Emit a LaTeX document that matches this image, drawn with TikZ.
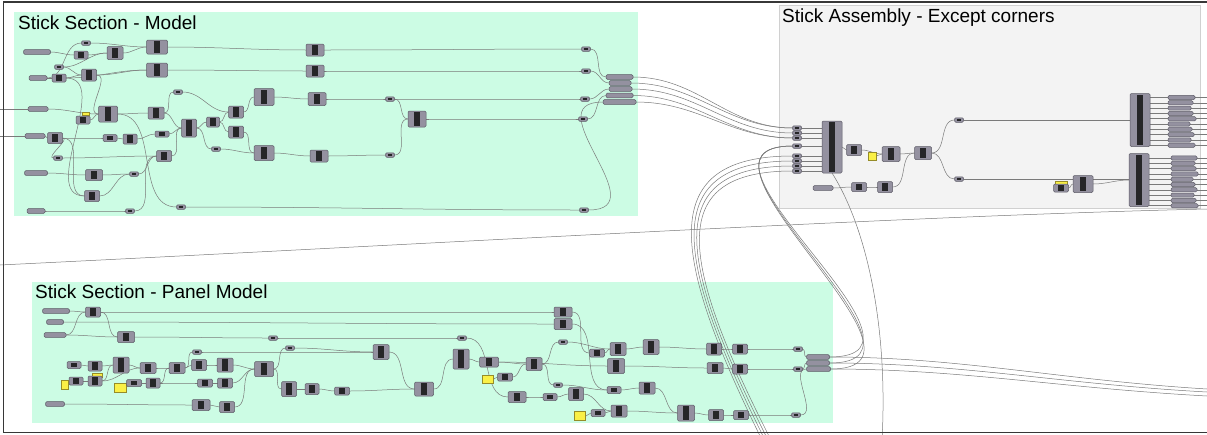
\documentclass[tikz,border=0pt]{standalone}
\usepackage{fontspec}
\setmainfont{Liberation Sans}
\usetikzlibrary{calc}
\definecolor{ggreen}{RGB}{204,252,228}
\definecolor{ggray}{RGB}{243,243,243}
\definecolor{ggrayb}{RGB}{208,208,208}
\definecolor{gcomp}{RGB}{148,145,160}
\definecolor{gedge}{RGB}{92,90,102}
\definecolor{gdark}{RGB}{38,38,40}
\definecolor{gwire}{RGB}{122,122,122}
\definecolor{gyel}{RGB}{250,240,70}
\definecolor{gyelb}{RGB}{150,140,40}
\definecolor{gframe}{RGB}{55,55,55}
\pgfdeclarelayer{bg}\pgfdeclarelayer{wl}\pgfsetlayers{bg,wl,main}
\tikzset{
  gh/.style={rectangle, rounded corners=1.3pt, draw=gedge, line width=0.5pt, fill=gcomp, inner sep=0pt, outer sep=0pt},
  comp/.style={gh, minimum width=15pt, minimum height=11pt,
    path picture={\fill[gdark, sharp corners] ([xshift=-2.8pt,yshift=-1.2pt]path picture bounding box.north) rectangle ([xshift=2.8pt,yshift=1.2pt]path picture bounding box.south);}},
  relay/.style={gh, minimum width=9pt, minimum height=4.5pt,
    path picture={\fill[gdark, sharp corners] ([xshift=-1.9pt,yshift=-0.9pt]path picture bounding box.north) rectangle ([xshift=1.9pt,yshift=0.9pt]path picture bounding box.south);}},
  param/.style={gh, minimum height=4.6pt, minimum width=26pt},
  ylw/.style={rectangle, draw=gyelb, fill=gyel, line width=0.5pt, inner sep=0pt},
  wire/.style={draw=gwire, line width=0.5pt},
  title/.style={font=\fontsize{19}{22}\selectfont, inner sep=0pt, text=black, anchor=base west},
}
\newcommand\Cmp[5]{\node[comp,minimum width=#4pt,minimum height=#5pt] (#1) at (#2,#3) {};}
\newcommand\Prm[4]{\node[param,minimum width=#4pt] (#1) at (#2,#3) {};}
\newcommand\Rly[3]{\node[relay] (#1) at (#2,#3) {};}
\newcommand\Ylw[5]{\node[ylw,minimum width=#4pt,minimum height=#5pt] (#1) at (#2,#3) {};}
\begin{document}
\begin{tikzpicture}[x=1pt,y=-1pt]
\useasboundingbox (0,0) rectangle (1207,434);
% ---------- groups
\begin{pgfonlayer}{bg}
\fill[white] (0,0) rectangle (1207,434);
\fill[ggreen] (14,12) rectangle (638,216);
\fill[ggray] (779,5) rectangle (1200,208);
\draw[ggrayb, line width=0.6pt] (779,5) rectangle (1200,208);
\fill[ggreen] (32,282) rectangle (833,423);
\end{pgfonlayer}
\node[title] (g1) at (18,29) {Stick Section - Model};
\node[title] (g2) at (782,22) {Stick Assembly - Except corners};
\node[title] (g3) at (35,298) {Stick Section - Panel Model};
% ---------- group 1 nodes
\Prm{p1}{37}{52}{27}
\Rly{r1}{86}{43}
\Cmp{c1}{81}{55}{14}{8}
\Cmp{c2}{115}{53}{16}{13}
\Cmp{c3}{157}{47}{21}{14}
\Rly{r2}{59}{67}
\Prm{p2}{38}{78}{18}
\Cmp{c4}{59}{78}{14}{8}
\Cmp{c5}{89}{75}{15}{12}
\Cmp{c6}{157}{70}{21}{14}
\Cmp{c7}{315}{50}{18}{12}
\Cmp{c8}{315}{71}{18}{12}
\Cmp{c9}{264}{97}{20}{17}
\Cmp{c10}{317}{99}{18}{13}
\Rly{r3}{178}{92}
\Prm{p3}{38}{109}{20}
\Ylw{y1}{85.5}{113.5}{7}{3.5}
\Cmp{c11}{83}{120}{14}{8}
\Cmp{c12}{108}{114}{19}{16}
\Cmp{c13}{156}{113}{16}{12}
\Cmp{c14}{236}{112}{15}{12}
\Cmp{c15}{213}{122}{13}{10}
\Cmp{c16}{189}{128}{15}{18}
\Cmp{c17}{236}{132}{15}{12}
\Rly{r4}{216}{149}
\Cmp{c18}{264}{153}{20}{15}
\Prm{p4}{35}{136}{20}
\Cmp{c20}{55}{138}{15}{11}
\Cmp{c21}{110}{138}{14}{7}
\Cmp{c22}{130}{139}{14}{10}
\Cmp{c23}{162}{134}{14}{6}
\Rly{r5}{58}{158}
\Cmp{c24}{164}{156}{15}{11}
\Cmp{c19}{319}{156}{18}{12}
\Prm{p5}{36}{173}{23}
\Cmp{c25}{94}{175}{17}{11}
\Rly{r6}{134}{174}
\Cmp{c26}{92}{196}{15}{11}
\Prm{p6}{36}{211}{18}
\Rly{r7}{130}{211}
\Rly{r8}{181}{207}
\Rly{r9}{586}{49}
\Rly{r10}{586}{71}
\Rly{r11}{390}{99}
\Rly{r12}{585}{99}
\Cmp{c27}{417}{119}{18}{16}
\Rly{r13}{583}{119}
\Rly{r14}{390}{155}
\Rly{r15}{584}{210}
\Prm{s1}{619.5}{77}{27}
\Prm{s2}{620}{83}{22}
\Prm{s3}{620.5}{89}{23}
\Prm{s4}{619.5}{95.5}{27}
\Prm{s5}{619.5}{102}{33}
\coordinate (e1) at (0,109);
\coordinate (e2) at (0,136);
% ---------- group 2 nodes
\Rly{q1}{797}{128}
\Rly{q2}{797}{133}
\Rly{q3}{797}{138}
\Rly{q4}{797}{146}
\Rly{q5}{797}{156}
\Rly{q6}{797}{161}
\Rly{q7}{797}{166}
\Rly{q8}{797}{171}
\Cmp{B1}{832}{147}{20}{52}
\Cmp{bx1}{854}{150}{15}{11}
\Ylw{by1}{872}{156}{8}{8}
\Cmp{bx2}{891}{154}{18}{15}
\Cmp{bx3}{923}{153}{17}{13}
\Prm{bp1}{823}{188}{20}
\Cmp{bx4}{859}{187}{15}{9}
\Cmp{bx5}{885}{187}{15}{11}
\Rly{br1}{959}{120}
\Rly{br2}{959}{179}
\Ylw{by2}{1061}{183}{12}{3}
\Cmp{bx6}{1061}{188}{15}{8}
\Cmp{bx7}{1083}{184}{20}{17}
\Cmp{B2}{1140}{120}{20}{53}
\Cmp{B3}{1139}{180}{20}{53}
\foreach \i/\w in {0/27,1/25,2/23,3/25,4/28,5/22,6/24,7/26,8/23,9/27}{
  \node[param, minimum width=\w pt, minimum height=4.2pt] (rp\i) at (1168+\w/2, 97.5+5.3*\i) {};
}
\foreach \i/\w in {0/26,1/24,2/25,3/27,4/22,5/24,6/26,7/23,8/25,9/27}{
  \node[param, minimum width=\w pt, minimum height=4.2pt] (rq\i) at (1171+\w/2, 158+5.3*\i) {};
}
% ---------- group 3 nodes
\Prm{tp1}{56}{311}{27}
\Cmp{tc1}{93}{312}{15}{10}
\Prm{tp2}{55}{322}{17}
\Prm{tp3}{55}{335}{22}
\Cmp{tc2}{126}{337}{17}{11}
\Rly{tr1}{273}{338}
\Rly{tr2}{197}{352}
\Rly{tr3}{290}{348}
\Cmp{tc3}{381}{352}{16}{15}
\Cmp{tc4}{74}{365}{14}{7}
\Cmp{tc5}{95}{366}{14}{10}
\Cmp{tc6}{121}{365}{16}{16}
\Cmp{tc7}{148}{368}{16}{11}
\Cmp{tc8}{177}{368}{16}{11}
\Cmp{tc9}{199}{365}{15}{11}
\Cmp{tc10}{225}{365}{16}{14}
\Cmp{tc11}{264}{369}{19}{15}
\Ylw{ty1}{65}{385}{7}{9}
\Cmp{tc12}{76}{381}{14}{8}
\Ylw{ty2}{97}{375}{10}{4}
\Cmp{tc13}{95}{381}{14}{10}
\Ylw{ty3}{120}{388}{12}{9}
\Cmp{tc14}{134}{383}{15}{7}
\Cmp{tc15}{153}{383}{14}{10}
\Cmp{tc16}{205}{383}{15}{8}
\Cmp{tc17}{225}{383}{15}{10}
\Cmp{tc18}{289}{389}{15}{15}
\Cmp{tc19}{312}{389}{14}{11}
\Cmp{tc20}{342}{391}{15}{8}
\Cmp{tc21}{424}{389}{19}{14}
\Prm{tp4}{55}{404}{19}
\Cmp{tc22}{201}{405}{18}{11}
\Cmp{tc23}{227}{407}{15}{11}
\Cmp{tc24}{563}{312}{18}{10}
\Cmp{tc25}{563}{324}{18}{11}
\Rly{tr4}{462}{338}
\Cmp{tc26}{461}{359}{16}{20}
\Cmp{tc27}{489}{362}{19}{10}
\Ylw{ty4}{488}{379}{11}{8}
\Cmp{tc28}{505}{377}{15}{8}
\Cmp{tc29}{534}{364}{16}{13}
\Cmp{tc30}{517}{397}{18}{11}
\Cmp{tc31}{550}{397}{14}{7}
\Cmp{tc32}{576}{394}{15}{13}
\Rly{tr5}{558}{385}
\Rly{tr6}{563}{342}
\Cmp{tc33}{597}{353}{15}{8}
\Cmp{tc34}{618}{349}{16}{13}
\Cmp{tc35}{651}{347}{16}{15}
\Cmp{tc36}{616}{366}{17}{15}
\Cmp{tc37}{614}{390}{14}{7}
\Cmp{tc38}{647}{388}{16}{12}
\Cmp{tc39}{619}{411}{16}{12}
\Cmp{tc40}{598}{413}{14}{7}
\Ylw{ty5}{580}{416}{11}{9}
\Cmp{tc41}{686}{413}{17}{16}
\Cmp{tc42}{714}{349}{15}{12}
\Cmp{tc43}{740}{349}{15}{10}
\Cmp{tc44}{715}{368}{16}{11}
\Cmp{tc45}{740}{369}{15}{10}
\Cmp{tc46}{716}{415}{15}{11}
\Cmp{tc47}{741}{415}{15}{9}
\Rly{tr7}{798}{349}
\Rly{tr8}{798}{369}
\Rly{tr9}{796}{415}
\Prm{ts1}{818}{357}{23}
\Prm{ts2}{818}{363}{23}
\Prm{ts3}{818.5}{369}{24}
% ---------- wires
\begin{pgfonlayer}{wl}
\draw[wire] (0,265) .. controls (450,243) and (900,216) .. (1207,209);
\draw[wire] (e1) -- (p3.west);
\draw[wire] (e2) -- (p4.west);
\foreach \a/\b in {p1/c1, c1/c2, c2/c3, p2/r1, r1/c3, r2/c2, p2/c4, c4/c5, r2/c5, c5/c6, c4/c6, c3/c7, c6/c8, c7/r9, c8/r10, r9/s1, r10/s2, p3/c12, c11/c12, c12/c13, c13/c16, c16/c15, c15/c14, c15/c17, c13/r3, r3/c14, c14/c9, c9/c10, c10/r11, r11/r12, r11/c27, r14/c27, c27/r13, r12/s3, r13/s4, c17/c18, c16/r4, r4/c18, c18/c19, c19/r14, p4/c20, c20/c21, c21/c22, c22/c23, c23/c16, c20/r5, r5/c24, c24/c16, p5/c25, c25/r6, r6/c24, c4/c26, c26/r6, c5/c12, p6/r7, r7/c24, c12/r8, r8/r15, c20/c26}
  \draw[wire] (\a.east) to[out=0,in=180] (\b.west);
\draw[wire] (r15.east) .. controls +(70,0) and +(-70,0) .. (s5.west);
% group 1 -> assembly
\foreach \a/\b in {s1/q1, s2/q1, s3/q2, s4/q3, s5/q3}
  \draw[wire] (\a.east) to[out=0,in=180] (\b.west);
% assembly internals
\foreach \q in {q1,q2,q3,q4,q5,q6,q7,q8}
  \draw[wire] (\q.east) -- (B1.west |- \q.east);
\foreach \a/\b in {B1/bx1, bx1/bx2, by1/bx2, bx2/bx3, bp1/bx4, bx4/bx5, bx5/bx3, bx3/br1, bx3/br2, bx6/bx7, bx7/B3}
  \draw[wire] (\a.east) to[out=0,in=180] (\b.west);
\draw[wire] (br1.east) -- (B2.west |- br1.east);
\draw[wire] (br2.east) -- (B3.west |- br2.east);
\foreach \i in {0,...,9}{
  \draw[wire] (B2.east |- rp\i.west) -- (rp\i.west);
  \draw[wire] (rp\i.east) -- (1207,97.5+5.3*\i);
  \draw[wire] (B3.east |- rq\i.west) -- (rq\i.west);
  \draw[wire] (rq\i.east) -- (1207,158+5.3*\i);
}
% group 3
\foreach \a/\b in {tp1/tc1, tp3/tc1, tc1/tc24, tp2/tc25, tp3/tc2, tc2/tr1, tr1/tr4, tc8/tr2, tr2/tc3, tc11/tr3, tr3/tc3, tc3/tc21, tc20/tc21, tc21/tc26, tr4/tc30, tc26/tc27, tc27/tc36, ty4/tc28, tc28/tc29, tc27/tc29, tc29/tr6, tc29/tr5, tr6/tc34, tc24/tc33, tc25/tc37, tc33/tc34, tc34/tc35, tc35/tc42, tc42/tc43, tc43/tr7, tr7/ts1, tc36/tc44, tc44/tc45, tc45/tr8, tr8/ts2, tr5/tc37, tc37/tc38, tc38/tc41, tc41/tc46, tc46/tc47, tc47/tr9, tr9/ts3, tc30/tc31, tc31/tc32, tc32/tc39, ty5/tc40, tc40/tc39, tc39/tc41, tc4/tc5, tc5/tc6, tc6/tc7, tc7/tc8, tc12/tc13, tc13/tc6, tc13/tc7, tc14/tc15, tc15/tc8, tc15/tc16, tc8/tc9, tc9/tc10, tc10/tc11, tc16/tc17, tc17/tc11, tc11/tc18, tc18/tc19, tc19/tc20, tp4/tc22, tc22/tc23, tc23/tc11, ty1/tc12, tc1/tc2}
  \draw[wire] (\a.east) to[out=0,in=180] (\b.west);
% group 3 -> assembly loops
\foreach \t in {ts1,ts2,ts3}
  \draw[wire] (\t.east) .. controls +(130,0) and +(-130,0) .. (q4.west);
% group 3 -> far right
\draw[wire] (ts1.east) .. controls (960,357) and (1060,380) .. (1207,389);
\draw[wire] (ts2.east) .. controls (960,363) and (1060,384) .. (1207,392);
\draw[wire] (ts3.east) .. controls (960,369) and (1060,388) .. (1207,396);
% bundle from below
\draw[wire] (762,440) .. controls (668,250) and (658,156) .. (q5.west);
\draw[wire] (765,440) .. controls (671,252) and (661,161) .. (q6.west);
\draw[wire] (768,440) .. controls (674,254) and (664,166) .. (q7.west);
\draw[wire] (771,440) .. controls (677,256) and (667,171) .. (q8.west);
\draw[wire] (B1.south) .. controls (868,230) and (888,330) .. (882,440);
\end{pgfonlayer}
% ---------- frame
\draw[gframe, line width=1.2pt] (1207,2) -- (3.5,2) -- (3.5,432.5) -- (1207,432.5);
\end{tikzpicture}
\end{document}
